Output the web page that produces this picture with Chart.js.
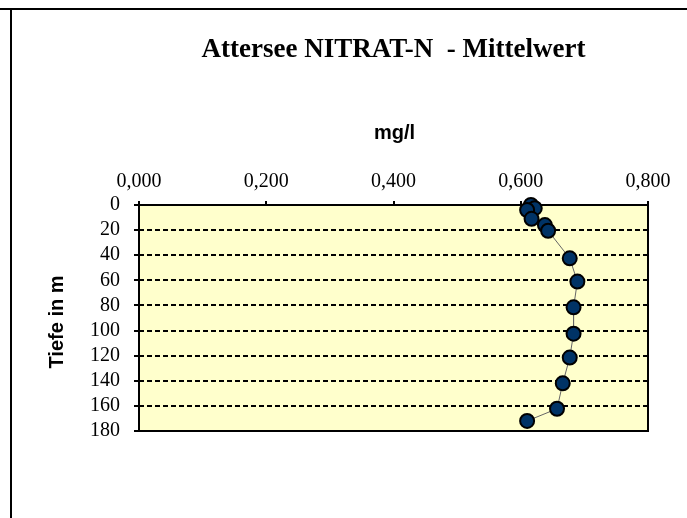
<!DOCTYPE html>
<html>
<head>
<meta charset="utf-8">
<script src="https://cdn.jsdelivr.net/npm/chart.js@4/dist/chart.umd.min.js"></script>
<style>
  html, body { margin: 0; padding: 0; background: #ffffff; }
  canvas { display: block; }
</style>
</head>
<body>
<canvas id="c" width="687" height="518"></canvas>
<script>
// ---- data ----
const depthM   = [0, 2.5, 4, 11, 16, 20.5, 42.5, 61, 81.5, 102.5, 121.5, 142, 162.3, 172];
const nitratN  = [0.616, 0.622, 0.610, 0.617, 0.638, 0.643, 0.677, 0.689, 0.683, 0.683, 0.677, 0.666, 0.657, 0.610];
const xTicks   = [0, 0.2, 0.4, 0.6, 0.8];
const yTicks   = [0, 20, 40, 60, 80, 100, 120, 140, 160, 180];
const titleText = 'Attersee NITRAT-N  - Mittelwert';
const xTitle   = 'mg/l';
const yTitle   = 'Tiefe in m';

const points = depthM.map((d, i) => ({ x: nitratN[i], y: d }));

const decor = {
  id: 'decor',
  beforeDraw(chart) {
    const { ctx, chartArea: a } = chart;
    ctx.save();
    ctx.fillStyle = '#ffffff';
    ctx.fillRect(0, 0, chart.width, chart.height);
    ctx.fillStyle = '#FFFFCC';
    ctx.fillRect(a.left, a.top, a.right - a.left, a.bottom - a.top);
    // outer frame lines
    ctx.fillStyle = '#000';
    ctx.fillRect(0, 8, chart.width, 2);
    ctx.fillRect(10, 9, 2, chart.height - 9);
    ctx.restore();
  },
  beforeDatasetsDraw(chart) {
    const { ctx, chartArea: a } = chart;
    ctx.save();
    ctx.strokeStyle = '#000';
    ctx.lineWidth = 2;
    ctx.strokeRect(a.left, a.top, a.right - a.left, a.bottom - a.top);
    ctx.restore();
  },
  afterDraw(chart) {
    const { ctx, chartArea: a } = chart;
    const cx = (a.left + a.right) / 2;
    ctx.save();
    ctx.fillStyle = '#000';
    ctx.textAlign = 'center';
    ctx.textBaseline = 'alphabetic';
    ctx.font = 'bold 27px "Liberation Serif", "Times New Roman", serif';
    ctx.fillText(titleText, cx, 57);
    ctx.font = 'bold 20px "Liberation Sans", Arial, sans-serif';
    ctx.fillText(xTitle, cx + 1, 139);
    ctx.translate(63, (a.top + a.bottom) / 2 + 4);
    ctx.rotate(-Math.PI / 2);
    ctx.fillText(yTitle, 0, 0);
    ctx.restore();
  }
};

new Chart(document.getElementById('c'), {
  type: 'scatter',
  data: {
    datasets: [{
      data: points,
      showLine: true,
      borderColor: '#666666',
      borderWidth: 1,
      pointRadius: 7,
      pointHoverRadius: 7,
      pointBackgroundColor: '#003366',
      pointBorderColor: '#000000',
      pointBorderWidth: 2,
      clip: false
    }]
  },
  options: {
    responsive: false,
    animation: false,
    events: [],
    layout: { padding: { left: 0, top: 0, right: 39, bottom: 87 } },
    plugins: { legend: { display: false }, tooltip: { enabled: false }, title: { display: false } },
    scales: {
      x: {
        type: 'linear',
        position: 'top',
        min: 0, max: 0.8,
        afterFit(s) { s.height = 205; },
        afterBuildTicks(s) { s.ticks = xTicks.map(v => ({ value: v })); },
        ticks: {
          autoSkip: false,
          maxRotation: 0,
          padding: 7,
          color: '#000',
          font: { family: '"Liberation Serif", "Times New Roman", serif', size: 20 },
          callback: v => v.toFixed(3).replace('.', ',')
        },
        grid: { drawOnChartArea: false, drawTicks: true, tickLength: 4, color: '#000', lineWidth: 2 },
        border: { display: false }
      },
      y: {
        type: 'linear',
        reverse: true,
        min: 0, max: 180,
        afterFit(s) { s.width = 139; },
        afterBuildTicks(s) { s.ticks = yTicks.map(v => ({ value: v })); },
        ticks: {
          autoSkip: false,
          padding: 14,
          color: '#000',
          font: { family: '"Liberation Serif", "Times New Roman", serif', size: 20 }
        },
        grid: { drawOnChartArea: true, drawTicks: true, tickLength: 5, color: '#000', lineWidth: 2 },
        border: { display: false, dash: [5, 3] }
      }
    }
  },
  plugins: [decor]
});
</script>
</body>
</html>
